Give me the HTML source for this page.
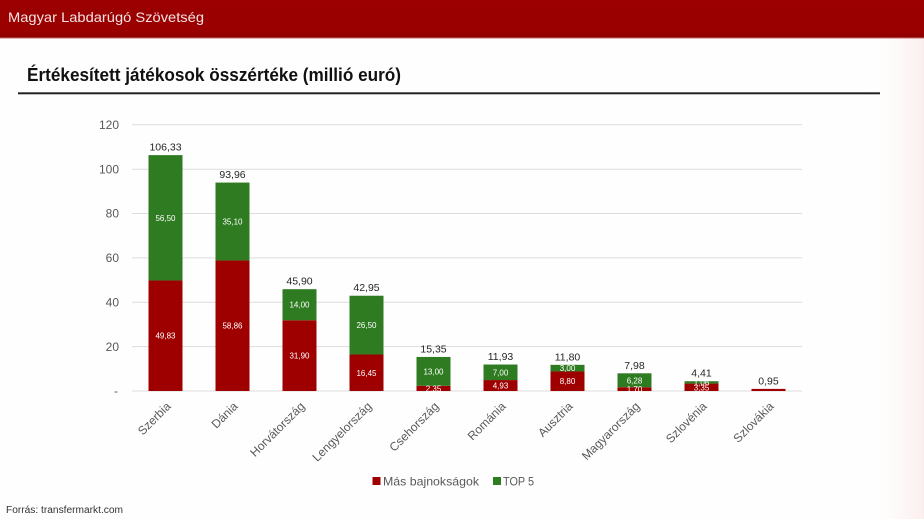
<!DOCTYPE html>
<html>
<head>
<meta charset="utf-8">
<style>
  html,body{margin:0;padding:0;background:#fff;}
  svg{display:block;}
  text{font-family:"Liberation Sans",Arial,sans-serif;}
</style>
</head>
<body>
<svg width="924" height="519" viewBox="0 0 924 519" xmlns="http://www.w3.org/2000/svg">
  <defs>
    <linearGradient id="hdr" x1="0" y1="0" x2="0" y2="1">
      <stop offset="0" stop-color="#9c0000"/>
      <stop offset="0.85" stop-color="#990000"/>
      <stop offset="1" stop-color="#8a0000"/>
    </linearGradient>
    <linearGradient id="rightfade" x1="0" y1="0" x2="1" y2="0">
      <stop offset="0" stop-color="#ffffff" stop-opacity="0"/>
      <stop offset="1" stop-color="#fbeeee" stop-opacity="1"/>
    </linearGradient>
  </defs>
  <rect x="0" y="0" width="924" height="519" fill="#fffefe"/>
  <rect x="860" y="38" width="64" height="481" fill="url(#rightfade)"/>
  <!-- header -->
  <rect x="0" y="0" width="924" height="38" fill="url(#hdr)"/>
  <rect x="0" y="37.5" width="924" height="1" fill="#c86a6a"/>
  <text x="8" y="22" font-size="14" fill="#f6e4e4" textLength="196" lengthAdjust="spacingAndGlyphs">Magyar Labdarúgó Szövetség</text>

  <!-- title -->
  <text x="27" y="81" font-size="18" font-weight="bold" fill="#111" textLength="374" lengthAdjust="spacingAndGlyphs">Értékesített játékosok összértéke (millió euró)</text>
  <rect x="18" y="92.3" width="862" height="2" fill="#222"/>

  <!-- gridlines -->
  <g stroke="#dcdcdc" stroke-width="1">
    <line x1="132" y1="124.8" x2="802" y2="124.8"/>
    <line x1="132" y1="169.2" x2="802" y2="169.2"/>
    <line x1="132" y1="213.5" x2="802" y2="213.5"/>
    <line x1="132" y1="257.9" x2="802" y2="257.9"/>
    <line x1="132" y1="302.3" x2="802" y2="302.3"/>
    <line x1="132" y1="346.6" x2="802" y2="346.6"/>
    <line x1="132" y1="391" x2="802" y2="391"/>
  </g>
  <!-- y labels -->
  <g font-size="12" fill="#595959" text-anchor="end">
    <text x="119" y="129">120</text>
    <text x="119" y="173.4">100</text>
    <text x="119" y="217.7">80</text>
    <text x="119" y="262.1">60</text>
    <text x="119" y="306.5">40</text>
    <text x="119" y="350.8">20</text>
    <text x="118" y="395">-</text>
  </g>

  <!-- bars: red -->
  <g fill="#9e0000">
    <rect x="148.5" y="280.46" width="34" height="110.54"/>
    <rect x="215.5" y="260.43" width="34" height="130.57"/>
    <rect x="282.5" y="320.24" width="34" height="70.76"/>
    <rect x="349.5" y="354.51" width="34" height="36.49"/>
    <rect x="416.5" y="385.79" width="34" height="5.21"/>
    <rect x="483.5" y="380.06" width="34" height="10.94"/>
    <rect x="550.5" y="371.48" width="34" height="19.52"/>
    <rect x="617.5" y="387.23" width="34" height="3.77"/>
    <rect x="684.5" y="383.57" width="34" height="7.43"/>
    <rect x="751.5" y="388.89" width="34" height="2.11"/>
  </g>
  <!-- bars: green -->
  <g fill="#2f7b22">
    <rect x="148.5" y="155.13" width="34" height="125.33"/>
    <rect x="215.5" y="182.57" width="34" height="77.86"/>
    <rect x="282.5" y="289.18" width="34" height="31.06"/>
    <rect x="349.5" y="295.73" width="34" height="58.78"/>
    <rect x="416.5" y="356.95" width="34" height="28.84"/>
    <rect x="483.5" y="364.53" width="34" height="15.53"/>
    <rect x="550.5" y="364.83" width="34" height="6.65"/>
    <rect x="617.5" y="373.30" width="34" height="13.93"/>
    <rect x="684.5" y="381.22" width="34" height="2.35"/>
  </g>

  <!-- inside labels -->
  <g font-size="8" fill="#ffffff" text-anchor="middle">
    <text x="165.5" y="338.7">49,83</text>
    <text x="165.5" y="220.8">56,50</text>
    <text x="232.5" y="328.7">58,86</text>
    <text x="232.5" y="224.5">35,10</text>
    <text x="299.5" y="358.6">31,90</text>
    <text x="299.5" y="307.7">14,00</text>
    <text x="366.5" y="375.8">16,45</text>
    <text x="366.5" y="328.1">26,50</text>
    <text x="433.5" y="391.4">2,35</text>
    <text x="433.5" y="374.4">13,00</text>
    <text x="500.5" y="388.5">4,93</text>
    <text x="500.5" y="375.3">7,00</text>
    <text x="567.5" y="384.2">8,80</text>
    <text x="567.5" y="371.2">3,00</text>
    <text x="634.5" y="392.1">1,70</text>
    <text x="634.5" y="383.3">6,28</text>
    <text x="701.5" y="390.3">3,35</text>
    <text x="701.5" y="385.4">1,06</text>
  </g>

  <!-- totals -->
  <g font-size="10.5" fill="#262626" text-anchor="middle">
    <text x="165.5" y="150.6">106,33</text>
    <text x="232.5" y="178.1">93,96</text>
    <text x="299.5" y="284.7">45,90</text>
    <text x="366.5" y="291.2">42,95</text>
    <text x="433.5" y="352.5">15,35</text>
    <text x="500.5" y="360.0">11,93</text>
    <text x="567.5" y="360.3">11,80</text>
    <text x="634.5" y="368.8">7,98</text>
    <text x="701.5" y="376.7">4,41</text>
    <text x="768.5" y="384.4">0,95</text>
  </g>

  <!-- x labels -->
  <g font-size="12" fill="#595959" text-anchor="end">
    <text transform="translate(171.5,407) rotate(-45)">Szerbia</text>
    <text transform="translate(238.5,407) rotate(-45)">Dánia</text>
    <text transform="translate(305.5,407) rotate(-45)">Horvátország</text>
    <text transform="translate(372.5,407) rotate(-45)">Lengyelország</text>
    <text transform="translate(439.5,407) rotate(-45)">Csehország</text>
    <text transform="translate(506.5,407) rotate(-45)">Románia</text>
    <text transform="translate(573.5,407) rotate(-45)">Ausztria</text>
    <text transform="translate(640.5,407) rotate(-45)">Magyarország</text>
    <text transform="translate(707.5,407) rotate(-45)">Szlovénia</text>
    <text transform="translate(774.5,407) rotate(-45)">Szlovákia</text>
  </g>

  <!-- legend -->
  <rect x="372.5" y="477" width="8" height="8" fill="#9e0000"/>
  <text x="383" y="485.5" font-size="12" fill="#595959" textLength="96" lengthAdjust="spacingAndGlyphs">Más bajnokságok</text>
  <rect x="493" y="477" width="8" height="8" fill="#2f7b22"/>
  <text x="503" y="485.5" font-size="12" fill="#595959" textLength="31" lengthAdjust="spacingAndGlyphs">TOP 5</text>

  <!-- footer -->
  <text x="6" y="513" font-size="10" fill="#333" textLength="117" lengthAdjust="spacingAndGlyphs">Forrás: transfermarkt.com</text>
</svg>
</body>
</html>
